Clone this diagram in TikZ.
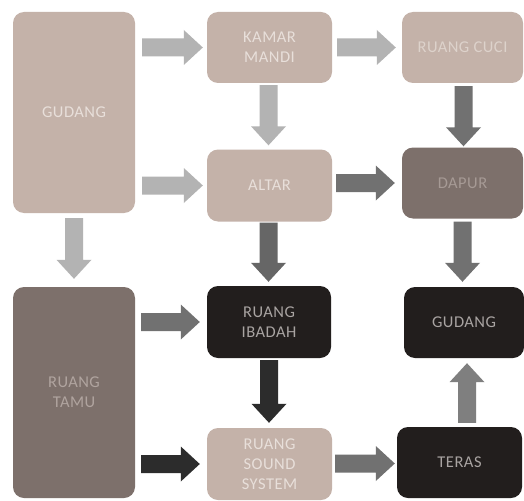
\documentclass[tikz,border=0pt]{standalone}
\usepackage{fontspec}
\setmainfont{Carlito}[LetterSpace=3]
\usetikzlibrary{calc}
\definecolor{lightbox}{HTML}{C4B2A9}
\definecolor{midbox}{HTML}{7D706B}
\definecolor{darkbox}{HTML}{221E1D}
\definecolor{lighttext}{HTML}{E8DFDA}
\definecolor{midtext}{HTML}{B0A49F}
\definecolor{darktext}{HTML}{A9A4A2}
\definecolor{lightarr}{HTML}{B3B3B3}
\definecolor{midarr}{HTML}{717171}
\definecolor{darkarr}{HTML}{2C2C2C}
\tikzset{
  box/.style={rounded corners=11pt, inner sep=0pt, align=center,
    font=\fontsize{16.5}{20}\selectfont},
  lbox/.style={box, fill=lightbox, text=lighttext},
  mbox/.style={box, fill=midbox, text=midtext},
  dbox/.style={box, fill=darkbox, text=darktext},
}
\newcommand\blockarr[3]{%
  \coordinate (ba-h) at ($(#2)!19pt!(#1)$);
  \fill[#3] ($(#1)!9pt!90:(#2)$) -- ($(ba-h)!9pt!90:(#2)$) -- ($(ba-h)!17.5pt!90:(#2)$)
    -- (#2) -- ($(ba-h)!17.5pt!-90:(#2)$) -- ($(ba-h)!9pt!-90:(#2)$)
    -- ($(#1)!9pt!-90:(#2)$) -- cycle;
}
\begin{document}
\begin{tikzpicture}[x=1pt,y=-1pt]
\useasboundingbox (0,0) rectangle (524,500);
\fill[white] (0,0) rectangle (524,500);
% boxes
\node[lbox, minimum width=122pt, minimum height=201pt] (g1) at (74,112.5) {GUDANG};
\node[lbox, minimum width=125pt, minimum height=71pt] (kamar) at (269.5,47.5) {KAMAR\\MANDI};
\node[lbox, minimum width=121pt, minimum height=71pt, text=lighttext!70!lightbox] (cuci) at (462.5,47.5) {RUANG CUCI};
\node[lbox, minimum width=125pt, minimum height=72pt] (altar) at (269.5,185.5) {ALTAR};
\node[mbox, minimum width=121pt, minimum height=71pt, text=midtext!80!midbox] (dapur) at (462.5,183) {DAPUR};
\node[mbox, minimum width=122pt, minimum height=211pt] (tamu) at (74,392.5) {RUANG\\TAMU};
\node[dbox, minimum width=124pt, minimum height=72pt] (ibadah) at (269,322) {RUANG\\IBADAH};
\node[lbox, minimum width=125pt, minimum height=72pt] (sound) at (269.5,464) {RUANG\\SOUND\\SYSTEM};
\node[dbox, minimum width=120pt, minimum height=71pt] (g2) at (464,322.5) {GUDANG};
\node[dbox, minimum width=125pt, minimum height=71pt] (teras) at (459.5,462.5) {TERAS};
% connectors
\coordinate (a1s) at ($(g1.east |- kamar.center)+(7,0)$);
\coordinate (a1e) at ($(kamar.west)+(-4,0)$);
\blockarr{a1s}{a1e}{lightarr}
\coordinate (a2s) at ($(g1.east |- altar.center)+(7,0)$);
\coordinate (a2e) at ($(altar.west)+(-4,0)$);
\blockarr{a2s}{a2e}{lightarr}
\coordinate (a3s) at ($(g1.south)+(0,5)$);
\coordinate (a3e) at ($(g1.south |- tamu.north)+(0,-8)$);
\blockarr{a3s}{a3e}{lightarr}
\coordinate (a4s) at ($(kamar.south)+(-1,2)$);
\coordinate (a4e) at ($(kamar.south |- altar.north)+(-1,-4)$);
\blockarr{a4s}{a4e}{lightarr}
\coordinate (a5s) at ($(kamar.east |- cuci.center)+(5,0)$);
\coordinate (a5e) at ($(cuci.west)+(-6,0)$);
\blockarr{a5s}{a5e}{lightarr}
\coordinate (a6s) at ($(cuci.south)+(1,3)$);
\coordinate (a6e) at ($(cuci.south |- dapur.north)+(1,-1)$);
\blockarr{a6s}{a6e}{midarr}
\coordinate (a7s) at ($(altar.east |- dapur.center)+(4,0)$);
\coordinate (a7e) at ($(dapur.west)+(-7,0)$);
\blockarr{a7s}{a7e}{midarr}
\coordinate (a8s) at ($(altar.south)+(-1,1)$);
\coordinate (a8e) at ($(altar.south |- ibadah.north)+(-1,-4)$);
\blockarr{a8s}{a8e}{midarr!90!black}
\coordinate (a9s) at ($(dapur.south)+(0,3)$);
\coordinate (a9e) at ($(dapur.south |- g2.north)+(0,-5)$);
\blockarr{a9s}{a9e}{midarr}
\coordinate (a10s) at ($(tamu.east |- ibadah.center)+(6,0)$);
\coordinate (a10e) at ($(ibadah.west)+(-7,0)$);
\blockarr{a10s}{a10e}{midarr}
\coordinate (a11s) at ($(tamu.east |- sound.center)+(6,0)$);
\coordinate (a11e) at ($(sound.west)+(-7,0)$);
\blockarr{a11s}{a11e}{darkarr}
\coordinate (a12s) at ($(ibadah.south)+(0,2)$);
\coordinate (a12e) at ($(ibadah.south |- sound.north)+(0,-5)$);
\blockarr{a12s}{a12e}{darkarr}
\coordinate (a13s) at ($(sound.east |- teras.center)+(3,1)$);
\coordinate (a13e) at ($(teras.west |- teras.center)+(-2,1)$);
\blockarr{a13s}{a13e}{midarr}
\coordinate (a14s) at ($(g2.center |- teras.north)+(3,-4)$);
\coordinate (a14e) at ($(g2.south)+(3,5)$);
\blockarr{a14s}{a14e}{midarr!90!white}
\end{tikzpicture}
\end{document}
